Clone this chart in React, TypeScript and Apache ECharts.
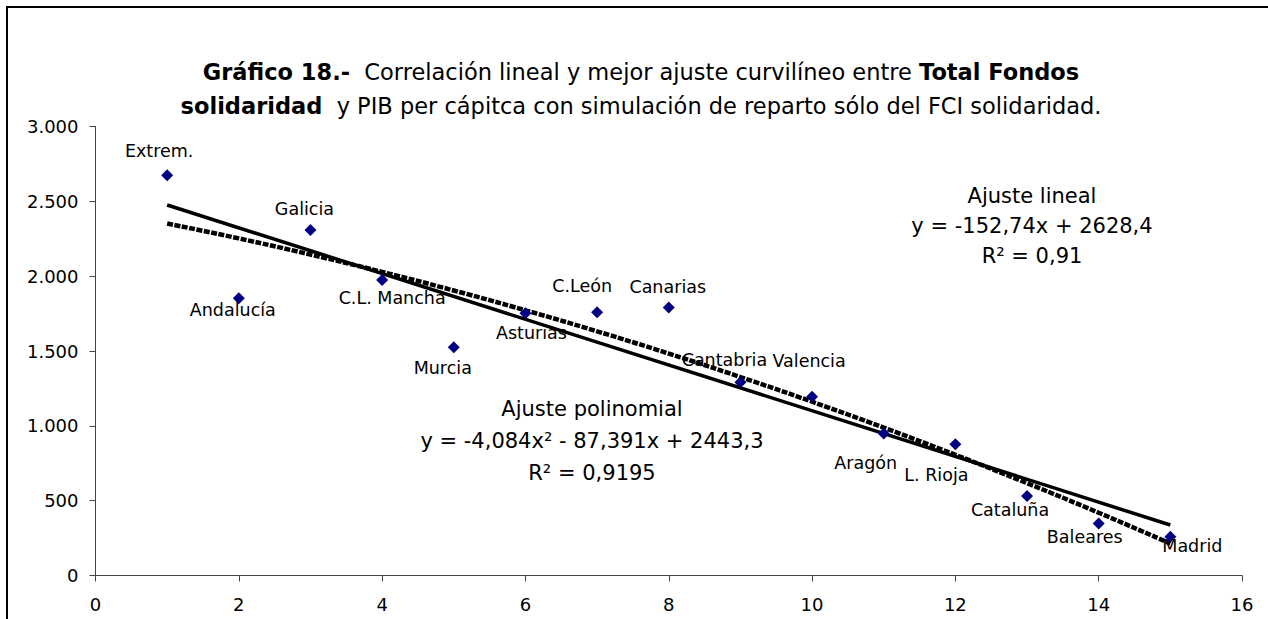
import React, { useEffect, useRef } from "react";
import * as echarts from "echarts";

const regions = ["Extrem.", "Andalucía", "Galicia", "C.L. Mancha", "Murcia", "Asturias", "C.León", "Canarias", "Cantabria", "Valencia", "Aragón", "L. Rioja", "Cataluña", "Baleares", "Madrid"];
const xValues = [1, 2, 3, 4, 5, 6, 7, 8, 9, 10, 11, 12, 13, 14, 15];
const yValues = [2675, 1852, 2308, 1975, 1525, 1752, 1759, 1790, 1292, 1195, 948, 877, 532, 348, 259];
const linearCoef = [-152.74, 2628.4];
const polyCoef = [-4.084, -87.391, 2443.3];
const xTicks = [0, 2, 4, 6, 8, 10, 12, 14, 16];
const yTicks = [0, 500, 1000, 1500, 2000, 2500, 3000];

const labelOffsets: number[][] = [
  [-8, -24], [-6, 12], [-6, -21], [10, 18], [-11, 21], [6, 20], [-15, -26], [-1, -21],
  [-16, -22], [-3, -36], [-18, 29], [-19, 31], [-17, 14], [-14, 14], [22, 9],
];

const FONT = "'DejaVu Sans', 'Liberation Sans', Arial, sans-serif";

export default function App() {
  const ref = useRef<HTMLDivElement>(null);
  useEffect(() => {
    if (!ref.current) return;
    const chart = echarts.init(ref.current, undefined, { renderer: "svg" });
    const linearData = [xValues[0], xValues[xValues.length - 1]].map((x) => [x, linearCoef[0] * x + linearCoef[1]]);
    const polyData = xValues.map((x) => [x, polyCoef[0] * x * x + polyCoef[1] * x + polyCoef[2]]);
    const pointData = xValues.map((x, i) => ({
      name: regions[i],
      value: [x, yValues[i]],
      label: { offset: labelOffsets[i] },
    }));
    const fmt = (v: number) => (v >= 1000 ? `${Math.floor(v / 1000)}.${String(v % 1000).padStart(3, "0")}` : String(v));
    chart.setOption({
      animation: false,
      backgroundColor: "#fff",
      textStyle: { fontFamily: FONT },
      grid: { left: 95.5, right: 26, top: 126.5, bottom: 43.5, containLabel: false },
      xAxis: {
        type: "value",
        min: xTicks[0],
        max: xTicks[xTicks.length - 1],
        interval: 2,
        axisLine: { lineStyle: { color: "#444", width: 1 } },
        axisTick: { show: true, inside: false, length: 6, lineStyle: { color: "#444" } },
        splitLine: { show: false },
        axisLabel: { color: "#000", fontSize: 18, fontFamily: FONT, margin: 20 },
      },
      yAxis: {
        type: "value",
        min: yTicks[0],
        max: yTicks[yTicks.length - 1],
        interval: 500,
        axisLine: { show: true, lineStyle: { color: "#444", width: 1 } },
        axisTick: { show: true, inside: false, length: 6, lineStyle: { color: "#444" } },
        splitLine: { show: false },
        axisLabel: { color: "#000", fontSize: 18, fontFamily: FONT, margin: 17, formatter: fmt },
      },
      graphic: [
        {
          type: "rect",
          shape: { x: 7, y: 7, width: 1300, height: 700 },
          style: { fill: "none", stroke: "#000", lineWidth: 2 },
          silent: true,
        },
        {
          type: "text",
          x: 641,
          y: 55,
          style: {
            text: "{b|Gráfico 18.-}  Correlación lineal y mejor ajuste curvilíneo entre {b|Total Fondos}\n{b|solidaridad}  y PIB per cápitca con simulación de reparto sólo del FCI solidaridad.",
            align: "center",
            verticalAlign: "top",
            fontSize: 22.5,
            fontFamily: FONT,
            fill: "#000",
            lineHeight: 34,
            rich: {
              b: { fontWeight: "bold", fontSize: 22.5, fontFamily: FONT, fill: "#000", lineHeight: 34 },
            },
          },
        },
        {
          type: "text",
          x: 1032,
          y: 181,
          style: {
            text: "Ajuste lineal\ny = -152,74x + 2628,4\nR² = 0,91",
            align: "center",
            verticalAlign: "top",
            fontSize: 21,
            lineHeight: 30,
            fontFamily: FONT,
            fill: "#000",
          },
        },
        {
          type: "text",
          x: 592,
          y: 393,
          style: {
            text: "Ajuste polinomial\ny = -4,084x² - 87,391x + 2443,3\nR² = 0,9195",
            align: "center",
            verticalAlign: "top",
            fontSize: 21,
            lineHeight: 32,
            fontFamily: FONT,
            fill: "#000",
          },
        },
      ],
      series: [
        {
          type: "line",
          data: linearData,
          symbol: "none",
          lineStyle: { color: "#000", width: 3.5 },
          z: 2,
        },
        {
          type: "line",
          data: polyData,
          symbol: "none",
          smooth: true,
          lineStyle: { color: "#000", width: 4.5, type: [6, 1.5] },
          z: 2,
        },
        {
          type: "scatter",
          data: pointData,
          symbol: "diamond",
          symbolSize: 12,
          itemStyle: { color: "#000080", opacity: 1 },
          z: 3,
          label: {
            show: true,
            position: "inside",
            formatter: "{b}",
            color: "#000",
            opacity: 1,
            fontSize: 17.5,
            fontFamily: FONT,
          },
        },
      ],
    });
    return () => chart.dispose();
  }, []);
  return (
    <div
      ref={ref}
      style={{ position: "absolute", left: 0, top: 0, width: 1268, height: 619 }}
    />
  );
}
